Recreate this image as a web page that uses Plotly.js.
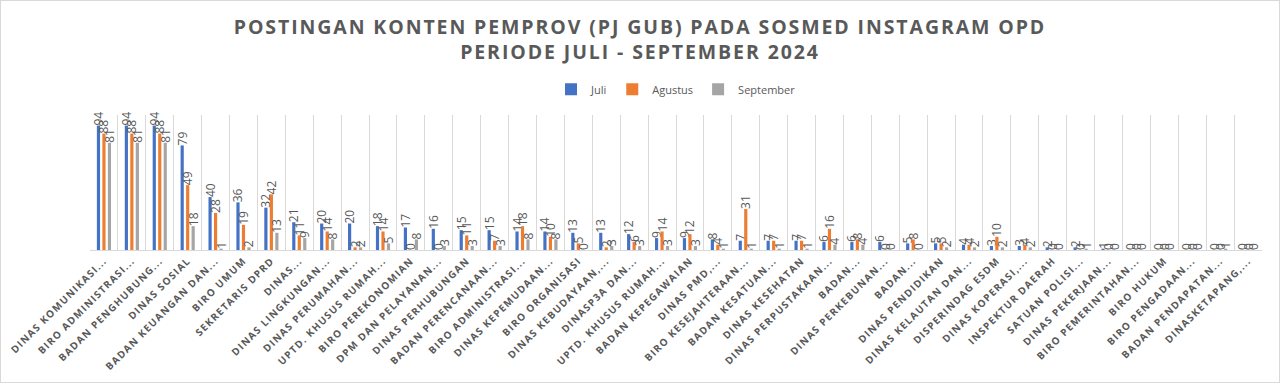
<!DOCTYPE html>
<html>
<head>
<meta charset="utf-8">
<script src="https://cdn.plot.ly/plotly-3.0.1.min.js"></script>
<style>
  html, body { margin: 0; padding: 0; background: #fff; }
  #wrap { position: relative; width: 1280px; height: 383px; }
  #chart { width: 1280px; height: 383px; }
  #frame { position: absolute; left: 0; top: 0; width: 1278px; height: 381px; border: 1px solid #d9d9d9; pointer-events: none; }
  .gtitle { letter-spacing: 1.9px; }
  .xtick text { letter-spacing: 1.2px; }
</style>
</head>
<body>
<div id="wrap"><div id="chart"></div><div id="frame"></div></div>
<script>
const categories = [
  "DINAS KOMUNIKASI...", "BIRO ADMINISTRASI...", "BADAN PENGHUBUNG...", "DINAS SOSIAL",
  "BADAN KEUANGAN DAN...", "BIRO UMUM", "SEKRETARIS DPRD", "DINAS...",
  "DINAS LINGKUNGAN...", "DINAS PERUMAHAN...", "UPTD. KHUSUS RUMAH...", "BIRO PEREKONOMIAN",
  "DPM DAN PELAYANAN...", "DINAS PERHUBUNGAN", "BADAN PERENCANAAN...", "BIRO ADMINISTRASI...",
  "DINAS KEPEMUDAAN...", "BIRO ORGANISASI", "DINAS KEBUDAYAAN,...", "DINASP3A DAN...",
  "UPTD. KHUSUS RUMAH...", "BADAN KEPEGAWAIAN", "DINAS PMD,...", "BIRO KESEJAHTERAAN...",
  "BADAN KESATUAN...", "DINAS KESEHATAN", "DINAS PERPUSTAKAAN...", "BADAN...",
  "DINAS PERKEBUNAN...", "BADAN...", "DINAS PENDIDIKAN", "DINAS KELAUTAN DAN...",
  "DISPERINDAG ESDM", "DINAS KOPERASI,...", "INSPEKTUR DAERAH", "SATUAN POLISI...",
  "DINAS PEKERJAAN...", "BIRO PEMERINTAHAN...", "BIRO HUKUM", "BIRO PENGADAAN...",
  "BADAN PENDAPATAN...", "DINASKETAPANG,..."
];
const juli      = [94,94,94,79,40,36,32,21,20,20,18,17,16,15,15,14,14,13,13,12,9,9,8,7,7,7,6,6,6,5,5,4,3,3,2,2,1,0,0,0,0,0];
const agustus   = [88,88,88,49,28,19,42,11,14,2,14,0,0,11,7,18,10,5,2,6,14,12,4,31,7,7,16,8,0,8,5,4,10,4,0,0,0,0,0,0,0,0];
const september = [81,81,81,18,1,2,13,9,8,2,5,8,3,3,3,8,8,0,3,3,3,3,1,1,1,1,4,4,0,0,2,2,2,2,0,1,0,0,0,0,1,0];
const seriesNames = ["Juli", "Agustus", "September"];
const seriesColors = ["#4472C4", "#ED7D31", "#A5A5A5"];

const idx = categories.map((_, i) => i);
const bounds = categories.map((_, i) => i - 0.5).concat([categories.length - 0.5]);

const traces = [juli, agustus, september].map((vals, k) => ({
  type: "bar",
  name: seriesNames[k],
  x: idx,
  y: vals,
  text: vals.map(String),
  textposition: "outside",
  textangle: -90,
  constraintext: "none",
  cliponaxis: false,
  textfont: { family: "Open Sans, sans-serif", size: 12, color: "#595959" },
  marker: { color: seriesColors[k] },
  hoverinfo: "x+y"
}));

const layout = {
  width: 1280,
  height: 383,
  margin: { l: 90, r: 18, t: 115, b: 133 },
  paper_bgcolor: "#ffffff",
  plot_bgcolor: "#ffffff",
  title: {
    text: "POSTINGAN KONTEN PEMPROV (PJ GUB) PADA SOSMED INSTAGRAM OPD<br>PERIODE JULI - SEPTEMBER 2024",
    font: { family: "Open Sans, sans-serif", size: 19.5, color: "#595959", weight: "bold" },
    x: 0.5, xanchor: "center",
    y: 0.912, yanchor: "middle", yref: "container"
  },
  barmode: "group",
  bargap: 0.41,
  bargroupgap: 0.42,
  showlegend: true,
  legend: {
    orientation: "h",
    x: 0.5, xanchor: "center",
    y: 1.19, yanchor: "middle",
    font: { family: "Open Sans, sans-serif", size: 11, color: "#595959" },
    itemwidth: 30,
    traceorder: "normal"
  },
  xaxis: {
    type: "linear",
    range: [-0.5, categories.length - 0.5],
    tickmode: "array",
    tickvals: idx,
    ticktext: categories,
    tickangle: -45,
    tickfont: { family: "Open Sans, sans-serif", size: 10, color: "#595959", weight: "bold" },
    ticks: "",
    showgrid: false,
    zeroline: false,
    showline: true,
    linecolor: "#d9d9d9",
    linewidth: 1,
    minor: { tickmode: "array", tickvals: bounds, showgrid: true, gridcolor: "#d9d9d9", gridwidth: 1, ticks: "" },
    fixedrange: true
  },
  yaxis: {
    range: [0, 102],
    showticklabels: false,
    showgrid: false,
    zeroline: false,
    ticks: "",
    fixedrange: true
  }
};

Plotly.newPlot("chart", traces, layout, { displayModeBar: false, staticPlot: true });
</script>
</body>
</html>
